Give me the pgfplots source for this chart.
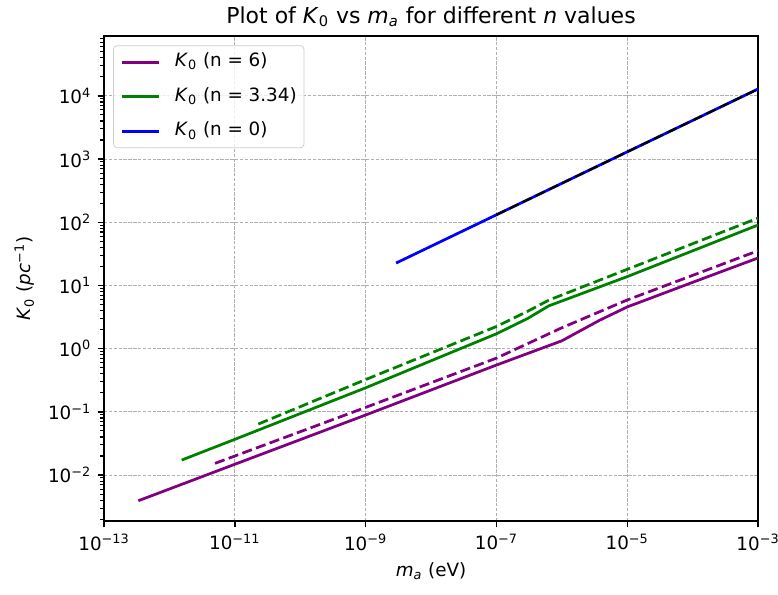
\documentclass[border=0pt]{standalone}
\usepackage{fontspec}
\setmainfont{DejaVu Sans}
\usepackage{pgfplots}
\pgfplotsset{compat=1.18}
\definecolor{mplpurple}{RGB}{128,0,128}
\definecolor{mplgreen}{RGB}{0,128,0}
\definecolor{mplblue}{RGB}{0,0,255}
\definecolor{gridgray}{RGB}{176,176,176}
\definecolor{leggray}{RGB}{204,204,204}
\newcommand{\Kz}{\textit{K}\textsubscript{0}}
\newcommand{\tp}[1]{10\textsuperscript{#1}}
\begin{document}
\begin{tikzpicture}
\begin{axis}[
  scale only axis, width=357.1pt, height=264.8pt,
  xmode=log, ymode=log,
  xmin=1e-13, xmax=1e-3,
  ymin=1.87e-3, ymax=8.83e4,
  xtick={1e-13,1e-11,1e-9,1e-7,1e-5,1e-3},
  xticklabels={\tp{−13},\tp{−11},\tp{−9},\tp{−7},\tp{−5},\tp{−3}},
  minor xtick={},
  ytick={1e-2,1e-1,1,10,100,1000,1e4},
  yticklabels={\tp{−2},\tp{−1},\tp{0},\tp{1},\tp{2},\tp{3},\tp{4}},
  minor ytick={2e-3,3e-3,4e-3,5e-3,6e-3,7e-3,8e-3,9e-3,
    2e-2,3e-2,4e-2,5e-2,6e-2,7e-2,8e-2,9e-2,
    2e-1,3e-1,4e-1,5e-1,6e-1,7e-1,8e-1,9e-1,
    2,3,4,5,6,7,8,9,
    20,30,40,50,60,70,80,90,
    200,300,400,500,600,700,800,900,
    2000,3000,4000,5000,6000,7000,8000,9000,
    2e4,3e4,4e4,5e4,6e4,7e4,8e4},
  grid=major,
  major grid style={gridgray, line width=0.5pt, dash pattern=on 1.85pt off 0.8pt},
  tick pos=left, tick align=outside,
  major tick length=3.5pt, minor tick length=2pt,
  tick style={black, line width=0.8pt},
  minor tick style={black, line width=0.6pt},
  axis line style={line width=0.8pt},
  tick label style={font=\fontsize{10}{12}\selectfont},
  title={Plot of \Kz{} vs \textit{m}\textsubscript{\textit{a}} for different \textit{n} values},
  every axis title shift=0pt,
  title style={font=\fontsize{12}{14}\selectfont, at={(0.5,1)}, anchor=south, inner sep=0pt, yshift=5pt},
  xlabel={\textit{m}\textsubscript{\textit{a}} (eV)},
  xlabel style={at={(axis description cs:0.5,-0.103)}, anchor=center, font=\fontsize{10}{12}\selectfont},
  ylabel={\Kz{} (\textit{pc}\textsuperscript{−1})},
  ylabel style={at={(axis description cs:-0.1216,0.5)}, anchor=center, rotate=0, font=\fontsize{10}{12}\selectfont},
  legend cell align=left,
  legend image code/.code={\draw[#1] (0pt,0pt) -- (20pt,0pt);},
  legend style={at={(0.014,0.981)}, anchor=north west, draw=leggray, rounded corners=2pt,
    fill=white, fill opacity=0.8, text opacity=1, inner xsep=4pt, inner ysep=4pt,
    font=\fontsize{10}{12}\selectfont, row sep=8.9pt, column sep=8pt,
    nodes={inner xsep=0pt, inner ysep=0pt, text height=7.5pt, text depth=2.5pt}},
]
% purple solid (n = 6)
\addplot[mplpurple, line width=1.5pt] coordinates {
 (3.35e-13,3.92e-3) (1e-11,0.0148) (1e-9,0.0891) (1e-7,0.550) (1e-6,1.33)
 (3.8e-6,2.82) (1e-5,4.57) (1e-4,11.2) (1e-3,27.2)};
\addlegendentry{\Kz{} (n = 6)}
% green solid (n = 3.34)
\addplot[mplgreen, line width=1.5pt] coordinates {
 (1.54e-12,0.01726) (1e-11,0.0367) (1e-9,0.240) (1e-7,1.718) (3e-7,3.0) (6.31e-7,4.75)
 (1e-5,13.8) (1e-3,90.4)};
\addlegendentry{\Kz{} (n = 3.34)}
% blue solid (n = 0)
\addplot[mplblue, line width=1.5pt] coordinates {
 (2.92e-9,22.6) (1e-7,131.2) (1e-5,1300) (1e-3,12830)};
\addlegendentry{\Kz{} (n = 0)}
% dashed companions
\addplot[mplpurple, line width=1.5pt, dash pattern=on 5.55pt off 2.4pt, forget plot] coordinates {
 (4.98e-12,0.0153) (1e-9,0.1175) (1e-7,0.708) (1e-6,2.14) (1e-5,5.89) (1e-3,35.4)};
\addplot[mplgreen, line width=1.5pt, dash pattern=on 5.55pt off 2.4pt, forget plot] coordinates {
 (2.29e-11,0.0641) (1e-9,0.324) (1e-7,2.24) (3e-7,3.9) (6.31e-7,5.85) (1e-5,18.0) (1e-3,116.4)};
\addplot[black, line width=1.2pt, dash pattern=on 5.55pt off 2.4pt, forget plot] coordinates {
 (1e-7,131.2) (1e-5,1300) (1e-3,12830)};
\end{axis}
\pgfresetboundingbox
\path[use as bounding box] (-56.8pt,-39.9pt) rectangle (368.0pt,284.5pt);
\end{tikzpicture}
\end{document}
